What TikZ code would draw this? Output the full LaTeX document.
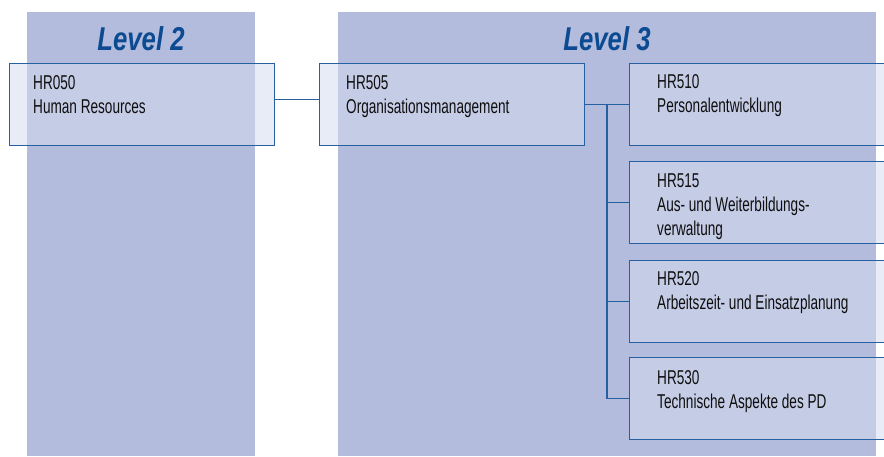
\documentclass[tikz,border=0pt]{standalone}
\usepackage{fontspec}
\newfontfamily\nar[FakeStretch=0.68]{Liberation Sans}
\newfontfamily\titlef[FakeStretch=0.78]{Liberation Sans}
\definecolor{colbg}{RGB}{179,188,221}
\definecolor{boxfill}{RGB}{213,220,238}
\definecolor{boxline}{RGB}{38,96,160}
\definecolor{titleblue}{RGB}{12,74,145}
\definecolor{txt}{RGB}{15,15,15}
\tikzset{
  column/.style={fill=colbg, draw=none},
  box/.style={draw=boxline, line width=1.4pt, fill=boxfill, fill opacity=0.53, text opacity=1,
    rectangle, anchor=north west, inner sep=0pt, minimum width=265pt, minimum height=82pt},
  lbl/.style={anchor=base west, inner sep=0pt, text=txt, font=\nar\fontsize{20}{24}\selectfont},
  ttl/.style={anchor=base, inner sep=0pt, text=titleblue, font=\titlef\bfseries\itshape\fontsize{33}{36}\selectfont},
  conn/.style={draw=boxline, line width=1.3pt}
}
\newcommand{\twolines}[1]{\parbox[t]{240pt}{\raggedright #1}}
\begin{document}
\begin{tikzpicture}[x=1pt, y=-1pt]
\useasboundingbox (0,0) rectangle (884,456);
\clip (0,0) rectangle (884,456);
\fill[white] (0,0) rectangle (884,456);
% columns
\path[column] (27,12) rectangle (255,456);
\path[column] (338,12) rectangle (876,456);
\node[ttl] (t2) at (141,50) {Level 2};
\node[ttl] (t3) at (607,50) {Level 3};
% boxes
\node[box] (hr050) at (9,63) {};
\node[box] (hr505) at (319,63) {};
\node[box] (hr510) at (629,63) {};
\node[box] (hr515) at (629,161) {};
\node[box] (hr520) at (629,260) {};
\node[box] (hr530) at (629,357) {};
% labels
\node[lbl] (l050) at (33,89) {\twolines{HR050\\Human Resources}};
\node[lbl] (l505) at (346,89) {\twolines{HR505\\Organisationsmanagement}};
\node[lbl] (l510) at (657,88) {\twolines{HR510\\Personalentwicklung}};
\node[lbl] (l515) at (657,187) {\twolines{HR515\\Aus- und Weiterbildungs-\\verwaltung}};
\node[lbl] (l520) at (657,285) {\twolines{HR520\\Arbeitszeit- und Einsatzplanung}};
\node[lbl] (l530) at (657,384) {\twolines{HR530\\Technische Aspekte des PD}};
% connectors
\draw[conn] ([yshift=5pt]hr050.east) -- ([yshift=5pt]hr505.west);
\draw[conn] (hr505.east) -- (hr510.west);
\coordinate (trunk) at (607,104);
\draw[conn] (trunk) |- (hr530.west);
\draw[conn] (trunk |- hr515.west) -- (hr515.west);
\draw[conn] (trunk |- hr520.west) -- (hr520.west);
\end{tikzpicture}
\end{document}
